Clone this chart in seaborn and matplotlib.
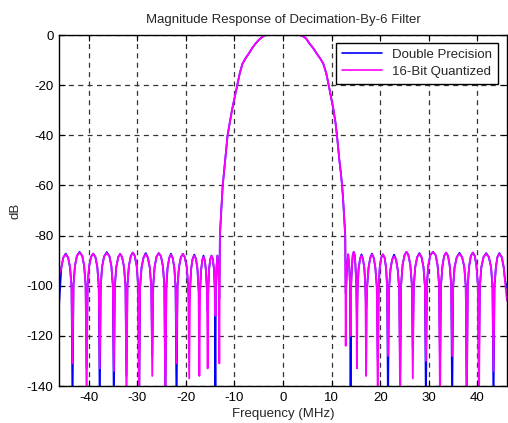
import matplotlib
matplotlib.use("Agg")
import matplotlib.pyplot as plt
import seaborn as sns
import pandas as pd
from matplotlib.lines import Line2D

# ---- data ----
title_text = "Magnitude Response of Decimation-By-6 Filter"
x_label = "Frequency (MHz)"
y_label = "dB"
series_names = ["Double Precision", "16-Bit Quantized"]
x_ticks = [-40, -30, -20, -10, 0, 10, 20, 30, 40]
y_ticks = [0, -20, -40, -60, -80, -100, -120, -140]

# left stopband (lobe by lobe: shoulders, peak, shoulders, null)
left_freq = [
    -46.08, -45.6, -45.2, -44.7, -44.2, -43.8, -43.5, -43.3,
    -43.1, -42.8, -42.4, -41.85, -41.3, -40.9, -40.6, -40.4,
    -40.2, -39.9, -39.5, -39.05, -38.6, -38.2, -37.9, -37.7,
    -37.5, -37.2, -36.8, -36.25, -35.7, -35.3, -35.0, -34.8,
    -34.6, -34.3, -33.9, -33.5, -33.1, -32.7, -32.4, -32.2,
    -32.0, -31.7, -31.3, -30.9, -30.5, -30.1, -29.8, -29.6,
    -29.4, -29.1, -28.7, -28.25, -27.8, -27.4, -27.1, -26.9,
    -26.7, -26.4, -26.0, -25.55, -25.1, -24.7, -24.4, -24.2,
    -24.0, -23.75, -23.4, -23.05, -22.7, -22.35, -22.1, -21.9,
    -21.7, -21.4, -21.0, -20.6, -20.2, -19.8, -19.5, -19.3,
    -19.12, -18.9, -18.6, -18.25, -17.9, -17.6, -17.38, -17.2,
    -17.05, -16.85, -16.6, -16.35, -16.1, -15.85, -15.65, -15.5,
    -15.37, -15.2, -14.95, -14.7, -14.45, -14.2, -14.03, -13.9,
    -13.82, -13.7, -13.5, -13.3, -13.18, -13.1,
]
left_quantized_db = [
    -96.0, -92.8, -88.8, -87.5, -88.8, -92.8, -100.5, -131,
    -99.8, -92.1, -88.1, -86.8, -88.1, -92.1, -99.8, -150,
    -100.2, -92.5, -88.5, -87.2, -88.5, -92.5, -100.2, -133,
    -100.0, -92.3, -88.3, -87.0, -88.3, -92.3, -100.0, -134,
    -100.3, -92.6, -88.6, -87.3, -88.6, -92.6, -100.3, -150,
    -99.8, -92.1, -88.1, -86.8, -88.1, -92.1, -99.8, -150,
    -100.5, -92.8, -88.8, -87.5, -88.8, -92.8, -100.5, -136,
    -100.0, -92.3, -88.3, -87.0, -88.3, -92.3, -100.0, -150,
    -100.6, -92.9, -88.9, -87.6, -88.9, -92.9, -100.6, -131,
    -100.3, -92.6, -88.6, -87.3, -88.6, -92.6, -100.3, -137,
    -101.0, -93.3, -89.3, -88.0, -89.3, -93.3, -101.0, -136,
    -101.5, -93.8, -89.8, -88.5, -89.8, -93.8, -101.5, -133,
    -101.0, -93.3, -89.3, -88.0, -89.3, -93.3, -101.0, -112,
    -101.0, -93.3, -88.0, -93.3, -101.0, -131,
]
left_double_db = [
    -108.0, -92.8, -88.8, -87.2, -88.8, -92.8, -100.5, -150,
    -99.8, -92.1, -88.1, -86.5, -88.1, -92.1, -99.8, -133,
    -100.2, -92.5, -88.5, -87.2, -88.5, -92.5, -100.2, -150,
    -100.0, -92.3, -88.3, -86.6, -88.3, -92.3, -100.0, -150,
    -100.3, -92.6, -88.6, -87.3, -88.6, -92.6, -100.3, -136,
    -99.8, -92.1, -88.1, -86.8, -88.1, -92.1, -99.8, -150,
    -100.5, -92.8, -88.8, -87.0, -88.8, -92.8, -100.5, -128,
    -100.0, -92.3, -88.3, -87.0, -88.3, -92.3, -100.0, -150,
    -100.6, -92.9, -88.9, -87.2, -88.9, -92.9, -100.6, -150,
    -100.3, -92.6, -88.6, -87.3, -88.6, -92.6, -100.3, -108,
    -101.0, -93.3, -89.3, -87.6, -89.3, -93.3, -101.0, -105,
    -101.5, -93.8, -89.8, -88.0, -89.8, -93.8, -101.5, -110,
    -101.0, -93.3, -89.3, -88.0, -89.3, -93.3, -101.0, -150,
    -101.0, -93.3, -88.0, -93.3, -101.0, -105,
]

# passband main lobe (same for both series)
main_freq = [
    -12.98, -12.85, -12.7, -12.55, -12.4, -12.15, -11.9, -11.65, -11.4, -10.95,
    -10.5, -9.95, -9.4, -8.9, -8.35, -7.7, -7.0, -6.3, -5.6, -5.0,
    -4.4, -3.9, -3.5, -1.5, 1.5, 3.4, 3.8, 4.2, 4.8, 5.4,
    6.2, 6.9, 7.7, 8.3, 8.9, 9.4, 9.9, 10.4, 10.8, 11.1,
    11.35, 11.6, 11.9, 12.15, 12.35, 12.5, 12.65, 12.8,
]
main_db = [
    -80, -75, -70, -65, -60, -55, -50, -45, -40, -35,
    -30, -25, -20, -15.3, -11.5, -9.3, -7.3, -5.1, -3.3, -2.0,
    -1.0, -0.3, 0.0, 0.0, 0.0, 0.0, -0.3, -0.6, -1.5, -3.3,
    -5.2, -7.3, -9.5, -11.5, -15.3, -20, -25, -30, -35, -40,
    -45, -50, -55, -60, -65, -70, -75, -80,
]

# right stopband
right_freq = [
    12.9,
    13.0, 13.15, 13.4, 13.65, 13.8, 13.9,
    14.02, 14.2, 14.35, 14.55, 14.75, 14.9, 15.08, 15.2,
    15.35, 15.55, 15.85, 16.15, 16.45, 16.75, 16.95, 17.1,
    17.3, 17.6, 17.95, 18.3, 18.65, 19.0, 19.3, 19.5,
    19.68, 19.9, 20.2, 20.55, 20.9, 21.2, 21.42, 21.6,
    21.8, 22.1, 22.45, 22.85, 23.25, 23.6, 23.9, 24.1,
    24.3, 24.6, 25.0, 25.4, 25.8, 26.2, 26.5, 26.7,
    26.9, 27.2, 27.6, 28.05, 28.5, 28.9, 29.2, 29.4,
    29.6, 29.9, 30.3, 30.85, 31.4, 31.8, 32.1, 32.3,
    32.5, 32.8, 33.15, 33.55, 33.95, 34.3, 34.6, 34.8,
    35.0, 35.3, 35.75, 36.3, 36.85, 37.3, 37.6, 37.8,
    38.0, 38.3, 38.65, 39.05, 39.45, 39.8, 40.1, 40.3,
    40.5, 40.8, 41.25, 41.8, 42.35, 42.8, 43.1, 43.3,
    43.5, 43.8, 44.1, 44.5, 45.0, 45.4, 45.7, 46.08,
]
right_quantized_db = [
    -124,
    -100.5, -92.8, -87.5, -92.8, -100.5, -120,
    -99.5, -91.8, -87.8, -86.5, -87.8, -91.8, -99.5, -133,
    -101.0, -93.3, -89.3, -88.0, -89.3, -93.3, -101.0, -136,
    -100.5, -92.8, -88.8, -87.5, -88.8, -92.8, -100.5, -150,
    -100.5, -92.8, -88.8, -87.5, -88.8, -92.8, -100.5, -128,
    -101.3, -93.6, -89.6, -88.3, -89.6, -93.6, -101.3, -150,
    -99.5, -91.8, -87.8, -86.5, -87.8, -91.8, -99.5, -137,
    -100.3, -92.6, -88.6, -87.3, -88.6, -92.6, -100.3, -130,
    -99.5, -91.8, -87.8, -86.5, -87.8, -91.8, -99.5, -150,
    -99.8, -92.1, -88.1, -86.8, -88.1, -92.1, -99.8, -128,
    -100.3, -92.6, -88.6, -87.3, -88.6, -92.6, -100.3, -150,
    -99.8, -92.1, -88.1, -86.8, -88.1, -92.1, -99.8, -150,
    -100.3, -92.6, -88.6, -87.3, -88.6, -92.6, -100.3, -134,
    -100.3, -92.6, -88.6, -87.3, -88.6, -92.6, -99.0, -106,
]
right_double_db = [
    -103,
    -100.5, -92.8, -87.5, -92.8, -100.5, -150,
    -99.5, -91.8, -87.8, -86.5, -87.8, -91.8, -99.5, -112,
    -101.0, -93.3, -89.3, -87.5, -89.3, -93.3, -101.0, -110,
    -100.5, -92.8, -88.8, -87.2, -88.8, -92.8, -100.5, -130,
    -100.5, -92.8, -88.8, -87.5, -88.8, -92.8, -100.5, -150,
    -101.3, -93.6, -89.6, -87.6, -89.6, -93.6, -101.3, -135,
    -99.5, -91.8, -87.8, -86.5, -87.8, -91.8, -99.5, -125,
    -100.3, -92.6, -88.6, -87.0, -88.6, -92.6, -100.3, -150,
    -99.5, -91.8, -87.8, -86.5, -87.8, -91.8, -99.5, -132,
    -99.8, -92.1, -88.1, -86.8, -88.1, -92.1, -99.8, -150,
    -100.3, -92.6, -88.6, -86.9, -88.6, -92.6, -100.3, -150,
    -99.8, -92.1, -88.1, -86.8, -88.1, -92.1, -99.8, -133,
    -100.3, -92.6, -88.6, -87.0, -88.6, -92.6, -100.3, -150,
    -100.3, -92.6, -88.6, -87.0, -88.6, -92.6, -98.0, -101,
]

freq_mhz = left_freq + main_freq + right_freq
double_db = left_double_db + main_db + right_double_db
quantized_db = left_quantized_db + main_db + right_quantized_db
assert len(freq_mhz) == len(quantized_db) == len(double_db)

df = pd.DataFrame({
    "freq": freq_mhz * 2,
    "db": double_db + quantized_db,
    "series": [series_names[0]] * len(freq_mhz) + [series_names[1]] * len(freq_mhz),
})

sns.set_style("white")
plt.rcParams["font.family"] = ["Liberation Sans", "DejaVu Sans"]
plt.rcParams["axes.unicode_minus"] = False

fig = plt.figure(figsize=(5.08, 4.23), dpi=100)
ax = fig.add_axes([59 / 508, 1 - 386 / 423, 448 / 508, (386 - 35) / 423])

sns.lineplot(data=df, x="freq", y="db", hue="series",
             palette={series_names[0]: "#0000ff", series_names[1]: "#ff00ff"},
             estimator=None, sort=False, linewidth=1.3, ax=ax, legend=False)

ax.set_xlim(-46.08, 46.08)
ax.set_ylim(-140, 0)
ax.set_xticks(x_ticks)
ax.set_yticks(y_ticks)
fs = 9.5
ax.set_xticklabels([str(t) for t in x_ticks], fontsize=fs)
ax.set_yticklabels([str(t) for t in y_ticks], fontsize=fs)
ax.tick_params(direction="in", length=4, width=0.8, top=True, right=True,
               bottom=True, left=True, pad=4, colors="black")
ax.grid(True, color="0.2", linestyle=(0, (4, 3.5)), linewidth=0.9)
for s in ax.spines.values():
    s.set_color("black")
    s.set_linewidth(1.0)

ax.set_title(title_text, fontsize=fs, pad=9)
ax.set_xlabel(x_label, fontsize=fs, labelpad=3)
ax.set_ylabel(y_label, fontsize=fs, labelpad=4)

handles = [Line2D([], [], color="#0000ff", lw=1.2),
           Line2D([], [], color="#ff00ff", lw=1.2)]
leg = ax.legend(handles, series_names, loc="upper right", fontsize=fs,
                frameon=True, fancybox=False, framealpha=1, edgecolor="black",
                borderpad=0.45, handlelength=3.0, labelspacing=0.35,
                bbox_to_anchor=(0.995, 0.997))
leg.get_frame().set_linewidth(1.0)

fig.savefig("out.png", dpi=100, facecolor="white")
